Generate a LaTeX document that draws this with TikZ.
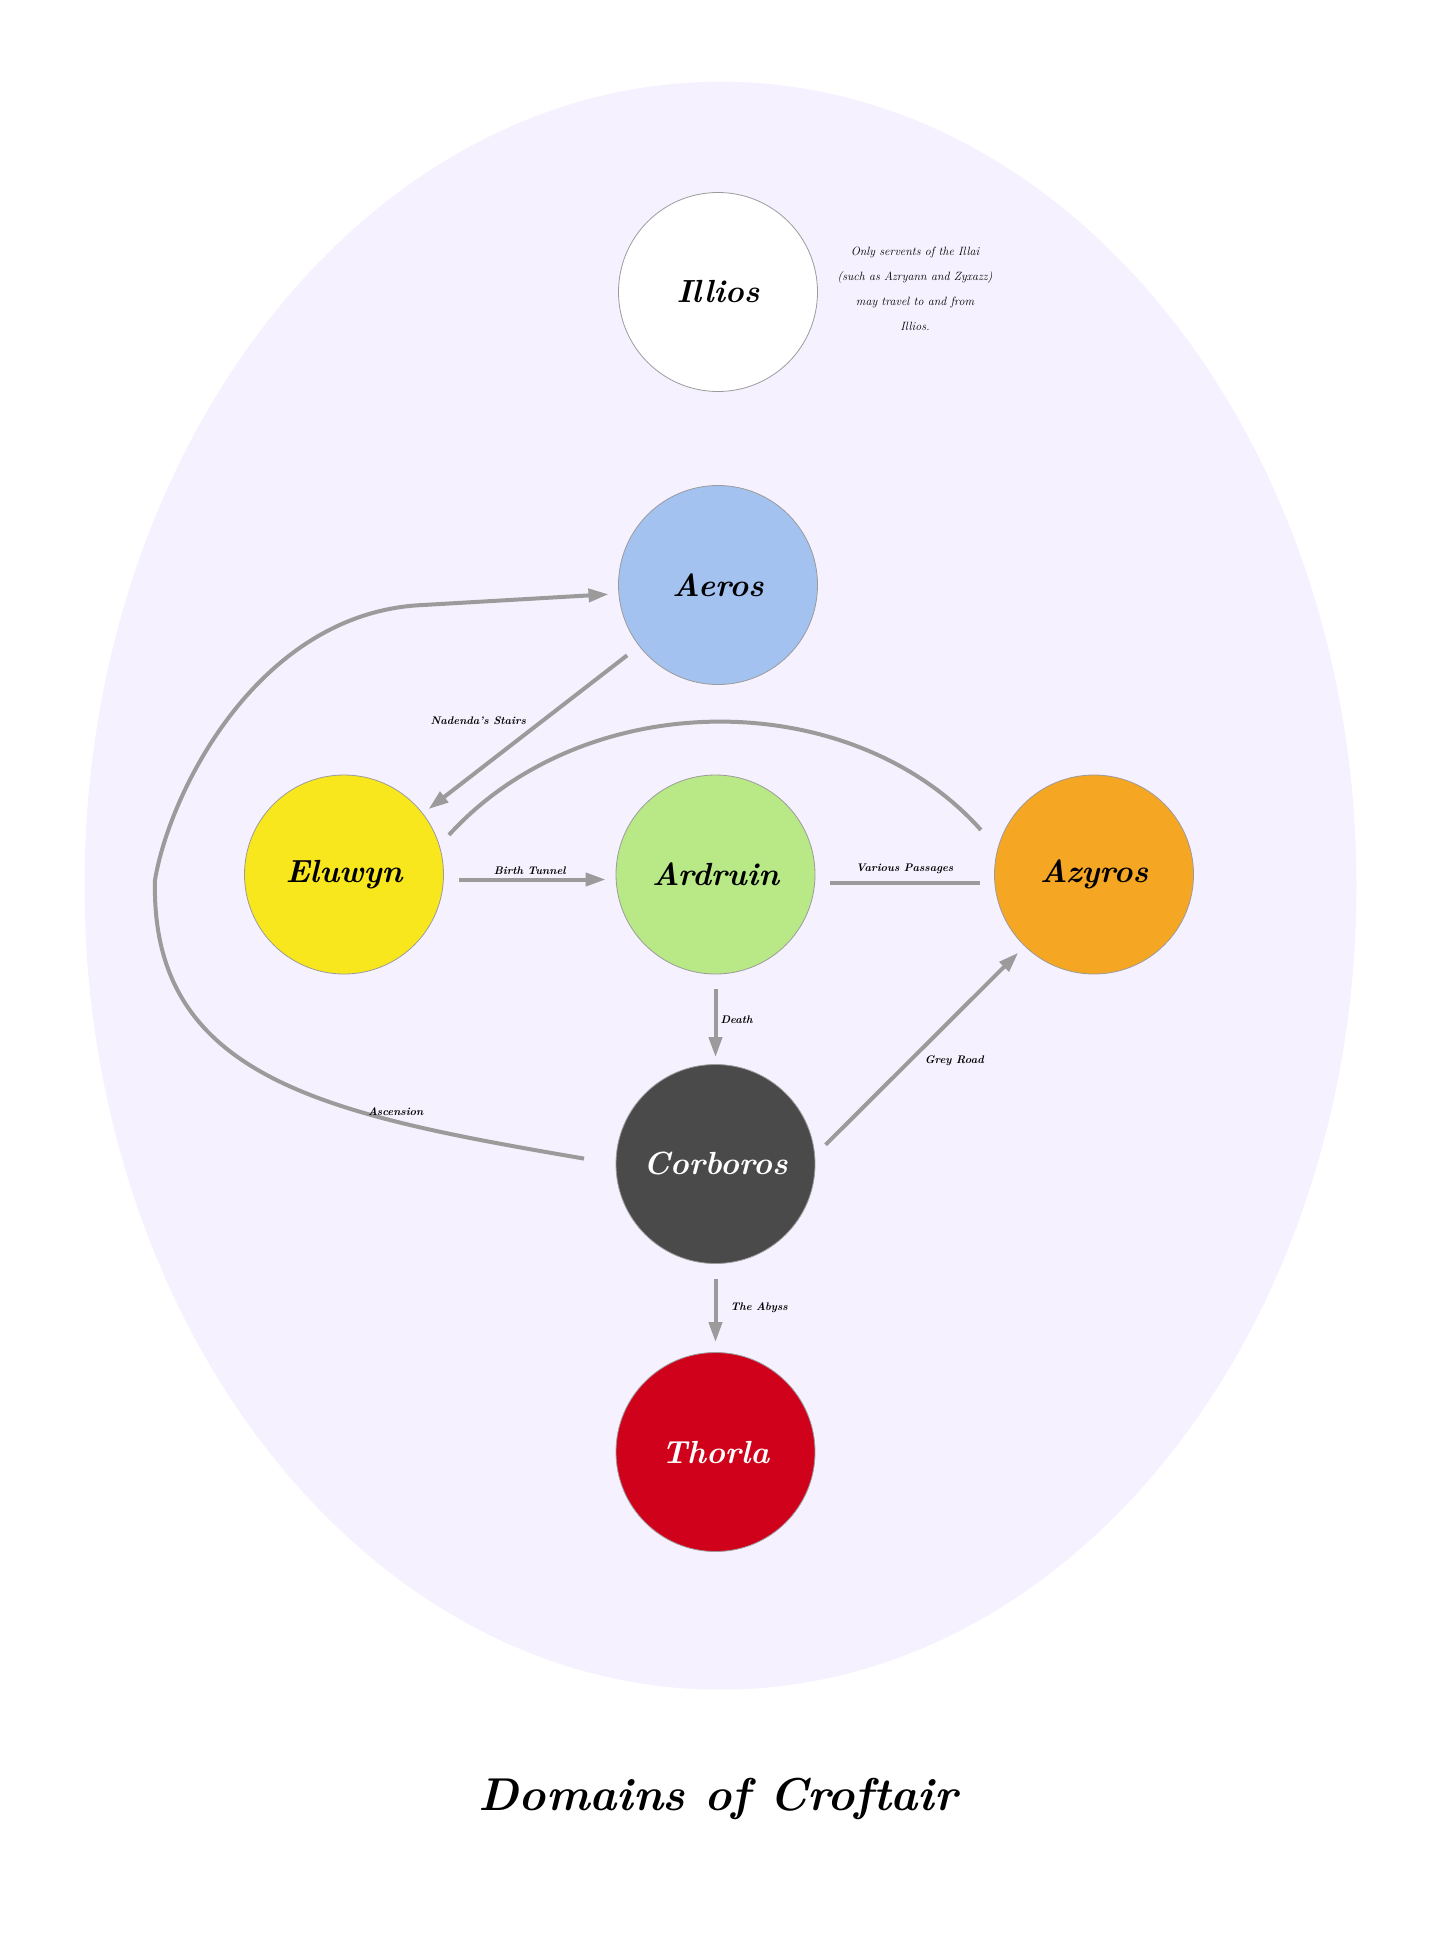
\documentclass[tikz,border=0pt]{standalone}
\usepackage{fontspec}
\usetikzlibrary{positioning, arrows.meta}

\definecolor{realm}{HTML}{F6F1FE}
\definecolor{wayline}{HTML}{9B9B9B}
\definecolor{aeroscol}{HTML}{A4C2F0}
\definecolor{eluwyncol}{HTML}{F8E71C}
\definecolor{ardruincol}{HTML}{B8E986}
\definecolor{azyroscol}{HTML}{F5A623}
\definecolor{corboroscol}{HTML}{4A4A4A}
\definecolor{thorlacol}{HTML}{D0021B}

\begin{document}
\begin{tikzpicture}[x=1pt, y=-1pt, >={Triangle[length=20pt, width=13pt]},
  every domain/.style={circle, draw=wayline, line width=0.8pt, minimum size=199pt,
    inner sep=0pt, font=\fontsize{32}{36}\selectfont\bfseries\itshape},
  passage/.style={draw=wayline, line width=4pt, shorten <=15pt, shorten >=10pt},
  tag/.style={font=\fontsize{11}{13}\selectfont\bfseries\itshape, inner sep=3pt}]

\useasboundingbox (0,0) rectangle (1431,1948);
\fill [realm] (720.5,885.7) ellipse [x radius=636, y radius=804];

\foreach \n/\l/\c/\t/\x/\y in {illios/Illios/white/black/718/292,
    aeros/Aeros/aeroscol/black/718/585,
    eluwyn/Eluwyn/eluwyncol/black/344/874.5,
    ardruin/Ardruin/ardruincol/black/715.5/874.5,
    azyros/Azyros/azyroscol/black/1094/874.5,
    corboros/Corboros/corboroscol/white/715.5/1164,
    thorla/Thorla/thorlacol/white/715.5/1452}
  \node [every domain, fill=\c, text=\t] (\n) at (\x,\y) {\l};

\node [align=center, font=\fontsize{12}{25}\selectfont\itshape] (note) at (915,289)
  {Only servents of the Illai\\(such as Azryann and Zyxazz)\\may travel to and from\\Illios.};

%% straight passages
\draw [->, passage, shorten >=7pt] (aeros) -- (eluwyn)
    node [tag, above left, midway] {Nadenda's Stairs};
\draw [->, passage] ([yshift=-5pt]eluwyn.east) -- ([yshift=-5pt]ardruin.west)
    node [tag, above, midway] {Birth Tunnel};
\draw [passage, shorten >=14pt] ([yshift=-8pt]ardruin.east) -- ([yshift=-8pt]azyros.west)
    node [tag, above, midway, yshift=4pt] {Various Passages};
\draw [->, passage, shorten >=7pt] (ardruin) -- (corboros)
    node [tag, right, midway] {Death};
\draw [->, passage] (corboros) -- (thorla)
    node [tag, right, midway, xshift=10pt] {The Abyss};
\draw [->, passage, shorten >=9pt] (corboros.5) -- (azyros.226)
    node [tag, below right, midway] {Grey Road};

%% curved passages
\draw [passage, shorten <=14pt, shorten >=25pt] (eluwyn.17) to [bend left=48] (azyros.165)
    node [tag, above, pos=.72] {Bridge of Light};
\draw [->, passage, shorten <=32pt] (corboros.180)
    .. controls (330,1115) and (150,1080) .. (155,880)
    node [tag, above, pos=.29] {Ascension}
    .. controls (170,790) and (260,612) .. (423,605)
    -- (aeros.185);

\node [font=\fontsize{46}{50}\selectfont\bfseries\itshape] (title) at (718,1799) {Domains of Croftair};

\end{tikzpicture}
\end{document}
